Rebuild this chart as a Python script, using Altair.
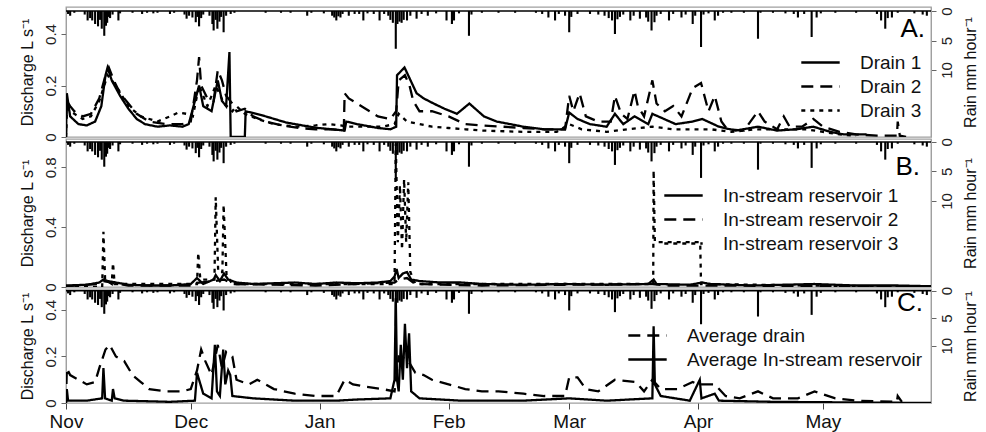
import altair as alt
import pandas as pd

BASE = pd.Timestamp("2011-11-01")

# ---- data: (day since 1 Nov, value) ----
drain1 = [(0,0.0),(0.2,0.17),(1,0.08),(3,0.05),(5,0.045),(7,0.06),(8.5,0.12),(9.5,0.24),(10,0.27),(11,0.22),
          (13,0.16),(15,0.11),(17,0.07),(19,0.05),(22,0.04),(25,0.045),(28,0.04),(29.5,0.05),(31,0.14),(32,0.20),
          (33,0.12),(35,0.10),(36.5,0.22),(37.5,0.14),(38.5,0.12),(39.3,0.33),(39.6,0.0),(43,0.0),(43.2,0.10),
          (47,0.085),(53,0.056),(60,0.036),(64,0.03),(67,0.025),(67.4,0.06),(70,0.05),(75,0.035),(78,0.03),
          (79.4,0.04),(79.6,0.24),(81.4,0.27),(84.3,0.17),(86,0.15),(88.4,0.13),(91,0.11),(94,0.09),(97,0.13),
          (100.5,0.08),(103.6,0.06),(110,0.04),(115,0.03),(120,0.03),(121,0.095),(123,0.07),(126,0.05),(130,0.04),
          (132,0.09),(134,0.05),(136.7,0.08),(140,0.05),(141,0.09),(146.6,0.05),(150.7,0.06),(153,0.07),(157,0.04),
          (161,0.025),(166.4,0.04),(171,0.025),(175.6,0.03),(179.7,0.04),(183.8,0.02),(187,0.01),(192.5,0.01)]
drain2 = [(0,0.0),(0.2,0.14),(1,0.12),(2,0.10),(4,0.08),(6,0.09),(8,0.15),(9.5,0.24),(10.3,0.27),(11.5,0.22),
          (13,0.17),(15,0.13),(17,0.09),(20,0.06),(24,0.05),(28,0.05),(30,0.06),(31.5,0.22),(32,0.31),(32.5,0.20),
          (34,0.15),(35.5,0.14),(36.5,0.26),(37.5,0.22),(38.5,0.16),(40,0.13),(41,0.10),(43,0.11),(45,0.08),
          (48,0.06),(52,0.045),(56,0.035),(60,0.03),(64,0.03),(66.8,0.025),(67,0.17),(68,0.15),(70,0.13),
          (73,0.10),(75,0.08),(78,0.07),(79.4,0.10),(80,0.22),(81.5,0.24),(82.6,0.20),(83.5,0.14),(85,0.10),
          (88,0.10),(92,0.08),(96,0.05),(100,0.045),(105,0.04),(110,0.035),(115,0.03),(120,0.03),(121,0.16),
          (122,0.10),(123.5,0.17),(125,0.08),(128,0.06),(131,0.06),(132,0.16),(133.5,0.09),(135,0.07),
          (136.7,0.18),(137.5,0.12),(139,0.08),(141,0.22),(142,0.13),(144,0.10),(146,0.12),(148,0.08),
          (150.7,0.19),(152.7,0.21),(154.5,0.10),(156,0.16),(157.6,0.06),(159,0.03),(163,0.025),(166.4,0.10),
          (168,0.06),(171,0.03),(172.6,0.08),(174,0.04),(177,0.04),(179.7,0.07),(182,0.04),(186,0.02),
          (190,0.01),(195,0.005),(199.8,0.005),(200,0.06),(200.5,0.005),(202,0.0)]
drain3 = [(0,0.0),(0.2,0.11),(1,0.10),(2,0.09),(4,0.07),(6,0.08),(8,0.14),(10,0.24),(12,0.20),(15,0.12),
          (18,0.08),(22,0.06),(25,0.08),(27,0.095),(29,0.09),(30.5,0.08),(32,0.20),(34,0.12),(36,0.20),(38,0.13),
          (40,0.10),(41,0.12),(43,0.09),(46,0.07),(50,0.05),(55,0.04),(60,0.045),(63,0.05),(66,0.045),(68,0.04),
          (72,0.04),(76,0.04),(79,0.05),(80,0.09),(82,0.06),(85,0.05),(88,0.04),(92,0.035),(96,0.03),(100,0.025),
          (110,0.02),(118,0.02),(121,0.05),(124,0.03),(130,0.02),(135,0.03),(141,0.04),(146,0.03),(150,0.03),
          (155,0.03),(160,0.02),(166,0.03),(172,0.03),(178,0.03),(182,0.02),(186,0.01),(190,0.005)]

res1 = [(0,0.01),(5,0.015),(8,0.03),(9,0.05),(10,0.04),(12,0.03),(15,0.015),(20,0.01),(25,0.01),(30,0.02),
        (31.5,0.06),(33,0.02),(35.5,0.05),(36,0.08),(37,0.04),(38,0.09),(39,0.05),(41,0.03),(45,0.02),(50,0.025),
        (55,0.03),(60,0.02),(65,0.03),(70,0.025),(75,0.03),(78,0.04),(79,0.07),(79.5,0.12),(80,0.06),(81,0.09),
        (82,0.10),(83,0.05),(85,0.04),(90,0.03),(95,0.03),(100,0.02),(110,0.015),(120,0.02),(130,0.015),(140,0.02),
        (141.3,0.05),(142,0.02),(150,0.015),(153,0.03),(155,0.02),(165,0.01),(180,0.02),(190,0.01),(200,0.01),(208,0.005)]
res2 = [(0,0.005),(8,0.02),(9,0.04),(11,0.03),(15,0.01),(30,0.01),(32,0.03),(36,0.04),(38,0.05),(40,0.02),
        (60,0.01),(79,0.03),(80,0.05),(82,0.06),(84,0.02),(100,0.01),(141,0.02),(145,0.01),(208,0.005)]
res3 = [(0,0.0),(8.7,0.0),(9,0.37),(9.4,0.05),(11,0.02),(11.3,0.16),(11.7,0.02),(31.5,0.02),(31.8,0.23),(32.3,0.05),
        (35.7,0.05),(36,0.60),(36.6,0.10),(37.6,0.10),(37.9,0.55),(38.6,0.08),(40,0.02),(79,0.02),(79.3,0.96),
        (79.8,0.30),(80.3,0.68),(80.8,0.25),(81.3,0.72),(81.8,0.30),(82.3,0.70),(82.8,0.10),(84,0.02),
        (141.2,0.02),(141.3,0.78),(141.6,0.30),(152.5,0.30),(152.7,0.02),(208,0.0)]

avg_drain = [(0,0.0),(0.2,0.15),(1,0.12),(3,0.10),(5,0.08),(7,0.09),(8,0.15),(9.5,0.23),(10.5,0.25),(12,0.20),
             (14,0.18),(16,0.12),(18,0.09),(20,0.06),(24,0.05),(28,0.05),(30,0.06),(31.5,0.14),(32.5,0.23),
             (33.5,0.18),(35,0.12),(36.5,0.25),(37.5,0.15),(38.5,0.22),(40,0.20),(41,0.10),(44,0.08),(46,0.10),
             (50,0.06),(55,0.04),(60,0.03),(65,0.03),(67,0.10),(69,0.08),(72,0.07),(76,0.06),(79,0.05),(80,0.20),
             (82,0.19),(84,0.13),(86,0.12),(88,0.10),(92,0.08),(96,0.06),(100,0.05),(104,0.05),(110,0.04),
             (115,0.03),(120,0.03),(121,0.11),(123,0.11),(125,0.06),(128,0.05),(132,0.10),(137,0.09),(139,0.05),
             (141,0.10),(143,0.06),(147,0.06),(150.7,0.09),(152,0.08),(156,0.08),(158.6,0.03),(162,0.02),
             (166.4,0.05),(170,0.02),(176,0.02),(180,0.05),(185,0.02),(190,0.01),(199.8,0.005),(200,0.03),(201,0.005)]
avg_res = [(0,0.0),(0.2,0.06),(0.5,0.01),(5,0.01),(8.7,0.02),(9,0.15),(9.4,0.02),(11,0.01),(11.3,0.06),(11.7,0.02),
           (14,0.01),(25,0.005),(31,0.01),(31.5,0.13),(32,0.10),(33,0.04),(35,0.02),(35.8,0.25),(36.3,0.05),
           (37,0.03),(37.8,0.23),(38.3,0.08),(39,0.14),(39.5,0.12),(40,0.03),(45,0.02),(55,0.01),(65,0.01),
           (70,0.015),(78,0.02),(79,0.10),(79.3,0.45),(79.6,0.10),(80,0.05),(80.5,0.25),(81,0.10),(81.5,0.34),
           (82,0.15),(82.5,0.30),(83,0.05),(85,0.02),(95,0.01),(110,0.01),(121,0.02),(130,0.01),(141,0.02),
           (141.3,0.33),(141.6,0.08),(143,0.03),(150,0.01),(152.4,0.10),(152.8,0.02),(156,0.04),(157,0.01),
           (170,0.005),(208,0.0)]

rain = [(0.5,0.5),(1,0.8),(2,0.3),(4.5,0.6),(5.2,1.6),(5.8,1.2),(6.3,1.6),(7,2.2),(7.7,2.6),(8.2,1.5),(8.6,3.0),
        (9.2,4.2),(9.6,2.5),(9.9,2.0),(10.3,1.0),(10.6,1.2),(11.2,0.6),(12.6,1.6),(13,0.4),(16,0.3),(18.3,0.5),
        (19.5,0.3),(21,0.4),(22,0.3),(25,0.5),(26,0.3),(28.5,0.6),(29,1.3),(29.6,0.8),(30.4,1.1),(31.2,1.9),
        (31.6,1.0),(32,2.6),(32.5,1.2),(33,0.6),(34.5,0.8),(35.2,2.2),(35.5,3.3),(36,1.5),(36.4,3.0),(36.9,1.8),
        (37.3,1.0),(37.9,3.6),(38.5,0.8),(39.6,0.5),(40.5,0.3),(48,0.3),(51.7,0.3),(54,0.3),(58,0.8),(59,0.3),
        (62,0.4),(64,0.8),(64.5,1.1),(65,1.6),(65.5,0.9),(66,1.1),(66.5,0.5),(68,0.8),(69.4,0.5),(70.5,0.5),
        (71.5,1.6),(72.5,0.4),(74,0.5),(75.4,1.6),(76.5,0.5),(77.5,0.8),(78,1.5),(78.6,2.0),(79.3,6.4),(79.7,2.2),
        (80.2,1.8),(80.7,2.0),(81.2,1.5),(82,1.6),(82.8,0.8),(84.3,1.3),(85.5,0.5),(87,0.8),(89,0.4),(91.5,1.6),
        (92.8,2.2),(93.3,1.6),(94.5,0.4),(96.9,4.2),(97.5,0.6),(100,0.3),(104,0.3),(108,0.3),(113,0.3),(114.5,0.5),
        (116,1.1),(117.6,1.6),(118.5,0.5),(120,0.8),(121,3.6),(121.5,1.0),(123,0.5),(126,0.5),(128,0.6),
        (129.5,0.8),(130.5,1.2),(131.3,1.6),(132,3.9),(132.6,1.4),(133.2,1.0),(134,0.6),(135.7,1.6),(136.5,0.8),
        (138,1.3),(139.5,1.1),(140,1.8),(140.8,3.3),(141.5,1.9),(142,0.8),(143,0.5),(145,1.6),(146,0.5),
        (148,1.1),(149,0.6),(150.7,2.2),(151.3,0.8),(152.7,6.1),(153.3,0.6),(154.5,0.4),(156,1.6),(156.8,0.8),
        (158,0.3),(160,0.3),(163,0.3),(166.4,4.7),(167,0.3),(170,0.3),(173,0.4),(175,0.5),(176,1.1),(177.5,0.5),
        (179.3,4.4),(180.5,1.1),(181.5,0.4),(185,0.3),(190,0.3),(195,0.5),(196,1.6),(197,3.0),(197.6,1.2),
        (198.6,1.1),(200,0.3),(204,0.4),(206,0.6),(207,0.8)]

month_ticks = [("2011", "Nov"), ("2011", "Dec"), ("2012", "Jan"), ("2012", "Feb"),
               ("2012", "Mar"), ("2012", "Apr"), ("2012", "May")]

FONT = "Liberation Sans"


def to_iso(day):
    return (BASE + pd.Timedelta(days=day)).strftime("%Y-%m-%dT%H:%M:%S")


def series_frame(pairs_by_name):
    rows = []
    for name, pairs in pairs_by_name:
        for d, v in pairs:
            rows.append({"date": to_iso(d), "q": v, "series": name})
    return pd.DataFrame(rows)


rain_df = pd.DataFrame({"date": [to_iso(d) for d, _ in rain], "rain": [v for _, v in rain]})

xscale = alt.Scale(domain=[alt.DateTime(year=2011, month="Nov", date=1),
                           alt.DateTime(year=2012, month="May", date=27)], nice=False)
xaxis = alt.Axis(values=[alt.DateTime(year=int(y), month=m, date=1) for y, m in month_ticks],
                 format="%b", title=None, labelFontSize=19, tickSize=6, labelPadding=3,
                 domain=False, labelColor="#111", tickColor="#444", labelFlush=False)


def panel(height, names, pairs, dashes, qdomain, qticks, rain_dom, legend_xy, letter, letter_xy, show_x):
    x = alt.X("date:T", scale=xscale, axis=xaxis if show_x else None)
    rain_axis = alt.Axis(orient="right", values=[0, 5, 10], title="Rain mm hour⁻¹",
                         labelAngle=-90, labelAlign="center", labelBaseline="top",
                         titleAngle=-90, titleBaseline="top", titleAlign="center",
                         tickSize=5, labelPadding=3, titlePadding=8)
    bars = alt.Chart(rain_df).mark_rule(color="black", strokeWidth=2.1).encode(
        x=x,
        y=alt.Y("rain:Q", scale=alt.Scale(domain=rain_dom, reverse=True, nice=False, zero=False), axis=rain_axis),
        y2=alt.datum(0),
    )
    base = alt.Chart(pd.DataFrame({"k": [0]})).mark_rule(color="black", strokeWidth=1.5).encode(
        y=alt.datum(0)
    )
    df = series_frame(list(zip(names, pairs)))
    lines = alt.Chart(df).mark_line(color="black", strokeWidth=2.3, clip=True).encode(
        x=x,
        y=alt.Y("q:Q", scale=alt.Scale(domain=qdomain, nice=False, zero=False),
                axis=alt.Axis(orient="left", values=qticks, format="~g", title="Discharge L s⁻¹",
                              labelAngle=-90, labelAlign="center", labelBaseline="bottom",
                              tickSize=5, labelPadding=3, titlePadding=8)),
        strokeDash=alt.StrokeDash("series:N", scale=alt.Scale(domain=names, range=dashes),
                                  legend=alt.Legend(orient="none", legendX=legend_xy[0], legendY=legend_xy[1],
                                                    title=None)),
    )
    txt = alt.Chart(pd.DataFrame({"t": [letter]})).mark_text(
        font=FONT, fontSize=26, align="right", baseline="middle", color="black"
    ).encode(x=alt.value(letter_xy[0]), y=alt.value(letter_xy[1]), text="t:N")
    return alt.layer(alt.layer(bars, base), alt.layer(lines, txt)).resolve_scale(
        y="independent").properties(width=865, height=height)


pA = panel(130, ["Drain 1", "Drain 2", "Drain 3"], [drain1, drain2, drain3],
           [[1, 0], [12, 7], [4, 5]], [0, 0.505], [0, 0.2, 0.4], [-0.68, 21.35],
           (741, 42), "A.", (859, 22), False)
pB = panel(148, ["In-stream reservoir 1", "In-stream reservoir 2", "In-stream reservoir 3"],
           [res1, res2, res3], [[1, 0], [12, 7], [4, 5]], [0, 0.99], [0, 0.4, 0.8], [-0.5, 24.6],
           (604, 43), "B.", (854, 28), False)
pC = panel(114, ["Average drain", "Average In-stream reservoir"], [avg_drain, avg_res],
           [[12, 7], [1, 0]], [0, 0.49], [0, 0.2, 0.4], [-0.3, 20.4],
           (568, 33), "C.", (857, 14), True)

chart = alt.vconcat(pA, pB, pC, spacing=2, bounds="flush").resolve_scale(
    strokeDash="independent").resolve_legend(strokeDash="independent").properties(
    padding={"left": 18, "right": 4, "top": 6, "bottom": 2}
).configure(font=FONT).configure_view(stroke="#a0a0a0", strokeWidth=1.3).configure_axis(
    labelFont=FONT, titleFont=FONT, labelFontSize=15, titleFontSize=16, titleFontWeight="normal",
    domainColor="#a0a0a0", tickColor="#666", labelColor="#222", titleColor="#111", grid=False,
).configure_legend(
    labelFont=FONT, labelFontSize=19, labelColor="#111", symbolType="M-1.6,0H1.6", symbolSize=576,
    symbolStrokeWidth=2.5, symbolStrokeColor="black", symbolFillColor="transparent",
    labelOffset=26, rowPadding=0, padding=0, labelLimit=400,
)

chart.save("out.html", embed_options={"renderer": "svg", "actions": False})
